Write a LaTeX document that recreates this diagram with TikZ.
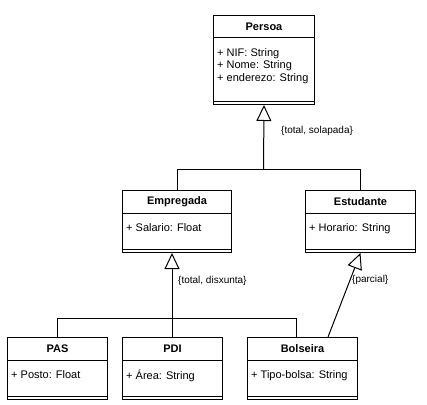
\documentclass[tikz,border=0pt]{standalone}
\usepackage{fontspec}
\setmainfont{Liberation Sans}
\usepackage{tikz}
\usetikzlibrary{calc,arrows.meta}

\tikzset{
    classbox/.style={draw, line width=1pt, fill=white, anchor=north west, inner sep=0pt},
    classname/.style={font=\bfseries\fontsize{11}{13}\selectfont, inner sep=0pt},
    classattr/.style={anchor=north west, align=left, inner sep=0pt, font=\fontsize{11}{12.5}\selectfont},
    gen/.style={line width=1pt, -{Triangle[open, length=16pt, width=15pt]}},
    conn/.style={line width=1pt},
    constraint/.style={anchor=west, inner sep=0pt, font=\fontsize{10}{12}\selectfont}
}

% UML class: name, x, y, width, height, title, attributes
\newcommand{\umlclass}[7]{%
    \node[classbox, minimum width=#4pt, minimum height=#5pt] (#1) at (#2,#3) {};
    \draw[line width=1pt] ([yshift=-23]#1.north west) -- ([yshift=-23]#1.north east);
    \draw[line width=1pt] ([yshift=4]#1.south west) -- ([yshift=4]#1.south east);
    \node[classname] (#1-title) at ($(#1.north)+(0,11.5)$) {#6};
    \node[classattr] (#1-attr) at ($(#1.north west)+(4,33)$) {#7};
}

\begin{document}
\begin{tikzpicture}[x=1pt, y=-1pt]
    \useasboundingbox (0,0) rectangle (427,404);

    % Top class
    \umlclass{persoa}{213}{15}{101}{89}{Persoa}{+ NIF: String\\+ Nome: String\\+ enderezo: String}

    % Second level
    \umlclass{empregada}{122}{190}{109}{62}{Empregada}{+ Salario: Float}
    \umlclass{estudante}{305}{190}{110}{62}{Estudante}{+ Horario: String}

    % Third level
    \umlclass{pas}{7}{337}{100}{62}{PAS}{+ Posto: Float}
    \umlclass{pdi}{122}{337}{100}{62}{PDI}{+ Área: String}
    \umlclass{bolseira}{247}{337}{110}{62}{Bolseira}{+ Tipo-bolsa: String}

    % Persoa generalization {total, solapada}
    \coordinate (jp) at (263.5,169);
    \draw[conn] (empregada.north) |- (jp);
    \draw[conn] (estudante.north) |- (jp);
    \draw[gen] (jp) -- (persoa.south);
    \node[constraint] (cpersoa) at (281,131) {\{total, solapada\}};

    % Empregada generalization {total, disxunta}
    \coordinate (je) at (172,318);
    \coordinate (bolseiratop) at (296,337);
    \draw[conn] (pas.north) |- (je);
    \draw[conn] (bolseiratop) |- (je);
    \draw[gen] (pdi.north -| je) -- (empregada.south -| je);
    \node[constraint] (cempregada) at (178,281) {\{total, disxunta\}};

    % Estudante generalization {parcial}
    \coordinate (bolseiraest) at (328,337);
    \draw[gen] (bolseiraest) -- (estudante.south);
    \node[constraint] (cestudante) at (352,280) {\{parcial\}};
\end{tikzpicture}
\end{document}
